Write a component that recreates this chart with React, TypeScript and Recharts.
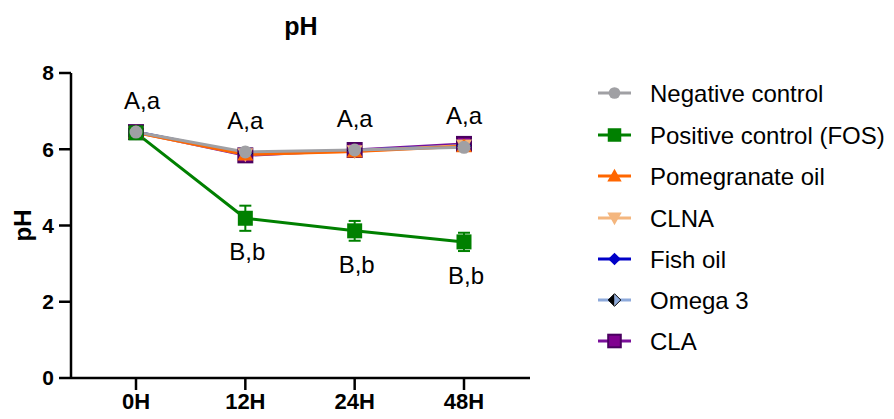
import React from "react";
import {
  LineChart,
  Line,
  XAxis,
  YAxis,
  ErrorBar,
  LabelList,
} from "recharts";

// Sampling times
const timepoints = ["0H", "12H", "24H", "48H"];

// Mean pH per treatment
const negativeControl = [6.45, 5.93, 5.98, 6.05];
const positiveControl = [6.43, 4.19, 3.86, 3.57];
const positiveControlSd = [0.04, 0.33, 0.26, 0.24];
const pomegranateOil = [6.44, 5.86, 5.94, 6.08];
const clna = [6.44, 5.87, 5.95, 6.1];
const fishOil = [6.45, 5.88, 5.96, 6.1];
const omega3 = [6.45, 5.89, 5.97, 6.09];
const cla = [6.45, 5.84, 5.98, 6.14];

// Significance letters
const upperLetters = ["A,a", "A,a", "A,a", "A,a"];
const lowerLetters = ["", "B,b", "B,b", "B,b"];

const yTicks = [0, 2, 4, 6, 8];

const FONT = '"Liberation Sans", Arial, Helvetica, sans-serif';

const data = timepoints.map((t, i) => ({
  time: t,
  neg: negativeControl[i],
  pos: positiveControl[i],
  posSd: positiveControlSd[i],
  pom: pomegranateOil[i],
  clna: clna[i],
  fish: fishOil[i],
  omega: omega3[i],
  cla: cla[i],
  upper: upperLetters[i],
  lower: lowerLetters[i],
}));

type Shape =
  | "circle"
  | "square"
  | "triUp"
  | "triDown"
  | "diamond"
  | "halfDiamond"
  | "claSquare";

interface SeriesDef {
  key: string;
  name: string;
  color: string;
  shape: Shape;
  fill: string;
}

const series: SeriesDef[] = [
  { key: "neg", name: "Negative control", color: "#A0A0A4", shape: "circle", fill: "#A0A0A4" },
  { key: "pos", name: "Positive control (FOS)", color: "#008000", shape: "square", fill: "#008000" },
  { key: "pom", name: "Pomegranate oil", color: "#FF6600", shape: "triUp", fill: "#FF6600" },
  { key: "clna", name: "CLNA", color: "#F4B67E", shape: "triDown", fill: "#F4B67E" },
  { key: "fish", name: "Fish oil", color: "#0000C8", shape: "diamond", fill: "#0000C8" },
  { key: "omega", name: "Omega 3", color: "#8EAADB", shape: "halfDiamond", fill: "#8EAADB" },
  { key: "cla", name: "CLA", color: "#7A0F9A", shape: "claSquare", fill: "#800090" },
];

function marker(shape: Shape, cx: number, cy: number, color: string, fill: string, s = 1) {
  switch (shape) {
    case "circle":
      return <circle cx={cx} cy={cy} r={6.5 * s} fill={fill} />;
    case "square":
      return <rect x={cx - 7.5 * s} y={cy - 7.5 * s} width={15 * s} height={15 * s} fill={fill} />;
    case "triUp":
      return (
        <path
          d={`M${cx},${cy - 8 * s}L${cx + 8 * s},${cy + 6 * s}L${cx - 8 * s},${cy + 6 * s}Z`}
          fill={fill}
        />
      );
    case "triDown":
      return (
        <path
          d={`M${cx},${cy + 8 * s}L${cx + 8 * s},${cy - 6 * s}L${cx - 8 * s},${cy - 6 * s}Z`}
          fill={fill}
        />
      );
    case "diamond":
      return (
        <path
          d={`M${cx},${cy - 7 * s}L${cx + 7 * s},${cy}L${cx},${cy + 7 * s}L${cx - 7 * s},${cy}Z`}
          fill={fill}
        />
      );
    case "halfDiamond":
      return (
        <g>
          <path d={`M${cx},${cy - 7 * s}L${cx - 7 * s},${cy}L${cx},${cy + 7 * s}Z`} fill="#000" />
          <path d={`M${cx},${cy - 7 * s}L${cx + 7 * s},${cy}L${cx},${cy + 7 * s}Z`} fill={fill} />
          <path
            d={`M${cx},${cy - 7 * s}L${cx + 7 * s},${cy}L${cx},${cy + 7 * s}L${cx - 7 * s},${cy}Z`}
            fill="none"
            stroke="#000"
            strokeWidth={1}
          />
        </g>
      );
    case "claSquare":
      return (
        <rect
          x={cx - 7 * s}
          y={cy - 7 * s}
          width={14 * s}
          height={14 * s}
          fill={fill}
          stroke="#4A0060"
          strokeWidth={2}
        />
      );
  }
}

const makeDot = (def: SeriesDef) => (props: any) => {
  const { cx, cy, index } = props;
  if (cx == null || cy == null) return <g key={`${def.key}-${index}`} />;
  return <g key={`${def.key}-${index}`}>{marker(def.shape, cx, cy, def.color, def.fill)}</g>;
};

const upperLabel = (props: any) => {
  const { x, y, value, index } = props;
  if (!value) return null;
  return (
    <text
      key={`u-${index}`}
      x={x + (index === 0 ? 6 : 0)}
      y={y - 23}
      textAnchor="middle"
      fontFamily={FONT}
      fontSize={24}
      fill="#000"
    >
      {value}
    </text>
  );
};

const lowerLabel = (props: any) => {
  const { x, y, value, index } = props;
  if (!value) return null;
  return (
    <text
      key={`l-${index}`}
      x={x + 2}
      y={y + 42}
      textAnchor="middle"
      fontFamily={FONT}
      fontSize={24}
      fill="#000"
    >
      {value}
    </text>
  );
};

const YLabel = (props: any) => {
  const vb = props.viewBox || { x: 0, y: 73, width: 71, height: 305 };
  const cx = vb.x + 22;
  const cy = vb.y + vb.height / 2;
  return (
    <text
      x={cx}
      y={cy}
      transform={`rotate(-90 ${cx} ${cy})`}
      textAnchor="middle"
      dominantBaseline="central"
      fontFamily={FONT}
      fontWeight="bold"
      fontSize={24}
      fill="#000"
    >
      pH
    </text>
  );
};

// Drawn bottom-to-top so the negative control sits above the overlapping oils
const drawOrder = ["cla", "omega", "fish", "clna", "pom", "pos", "neg"];

export default function App() {
  const legendRowY = [93, 135, 176, 218, 259, 300, 341];
  return (
    <div style={{ position: "absolute", left: 0, top: 0, width: 894, height: 419, background: "#fff" }}>
      <LineChart
        width={894}
        height={419}
        data={data}
        margin={{ top: 73, right: 364, bottom: 0, left: 0 }}
      >
        <XAxis
          dataKey="time"
          height={41}
          padding={{ left: 65, right: 66 }}
          stroke="#000"
          strokeWidth={2.5}
          tickSize={12}
          tickMargin={3}
          tick={{ fill: "#000", fontFamily: FONT, fontWeight: "bold", fontSize: 22 }}
          tickLine={{ stroke: "#000", strokeWidth: 2.5 }}
        />
        <YAxis
          width={71}
          domain={[0, 8]}
          ticks={yTicks}
          stroke="#000"
          strokeWidth={2.5}
          tickSize={12}
          tickMargin={5}
          tick={{ fill: "#000", fontFamily: FONT, fontWeight: "bold", fontSize: 21 }}
          tickLine={{ stroke: "#000", strokeWidth: 2.5 }}
          label={<YLabel />}
        />
        {drawOrder.map((k) => {
          const def = series.find((s) => s.key === k)!;
          return (
            <Line
              key={k}
              type="linear"
              dataKey={k}
              name={def.name}
              stroke={def.color}
              strokeWidth={3}
              dot={makeDot(def)}
              activeDot={false}
              isAnimationActive={false}
            >
              {k === "pos" && (
                <ErrorBar
                  dataKey="posSd"
                  direction="y"
                  width={6}
                  stroke="#008000"
                  strokeWidth={2}
                  isAnimationActive={false}
                />
              )}
              {k === "pos" && <LabelList dataKey="lower" content={lowerLabel} />}
              {k === "neg" && <LabelList dataKey="upper" content={upperLabel} />}
            </Line>
          );
        })}
      </LineChart>
      <svg
        width={894}
        height={419}
        style={{ position: "absolute", left: 0, top: 0, pointerEvents: "none" }}
      >
        <text
          x={301}
          y={35}
          textAnchor="middle"
          fontFamily={FONT}
          fontWeight="bold"
          fontSize={25}
          fill="#000"
        >
          pH
        </text>
        {series.map((s, i) => {
          const y = legendRowY[i];
          return (
            <g key={s.key}>
              <line x1={598} x2={631} y1={y} y2={y} stroke={s.color} strokeWidth={3} />
              {marker(s.shape, 614.5, y, s.color, s.fill, 0.9)}
              <text x={650} y={y + 8.5} fontFamily={FONT} fontSize={24} fill="#000">
                {s.name}
              </text>
            </g>
          );
        })}
      </svg>
    </div>
  );
}
